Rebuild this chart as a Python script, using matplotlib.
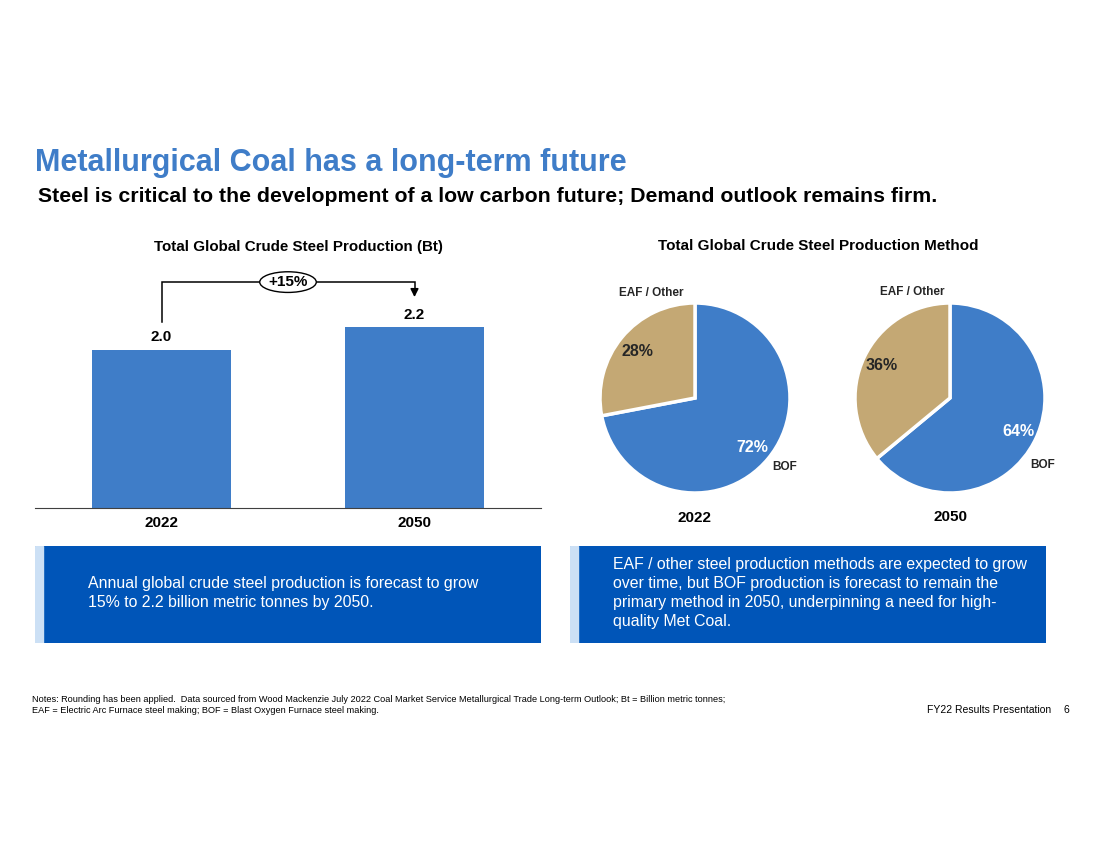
import numpy as np
import matplotlib.pyplot as plt

plt.rcParams['font.family'] = ['Liberation Sans', 'DejaVu Sans']

# data
years = ['2022', '2050']
production = [1.96, 2.24]          # Bt
growth_label = '+15%'
methods = ['BOF', 'EAF / Other']
share_2022 = [72, 28]
share_2050 = [64, 36]

W, H = 1100, 849
BLUE = '#3F7DC8'
TAN = '#C4A874'
BOX = '#0055B8'
STRIP = '#CCE0F5'

fig = plt.figure(figsize=(W / 100, H / 100), dpi=100)


def px_axes(x0, y0, x1, y1):
    return fig.add_axes([x0 / W, 1 - y1 / H, (x1 - x0) / W, (y1 - y0) / H])


def ftext(x, y, s, **kw):
    fig.text(x / W, 1 - y / H, s, **kw)


# headings
ftext(35, 163, 'Metallurgical Coal has a long-term future', fontsize=22,
      fontweight='bold', color=BLUE, va='center')
ftext(38, 197, 'Steel is critical to the development of a low carbon future; Demand outlook remains firm.',
      fontsize=15.3, fontweight='bold', color='black', va='center')

# bar chart
ax = px_axes(35, 270, 541, 508)
x = np.arange(len(years))
ax.bar(x, production, width=0.55, color=BLUE)
ax.set_xlim(-0.5, 1.5)
ax.set_ylim(0, 2.95)
for s in ['top', 'right', 'left']:
    ax.spines[s].set_visible(False)
ax.spines['bottom'].set_color('#404040')
ax.set_yticks([])
ax.set_xticks(x)
ax.set_xticklabels(years, fontsize=11, fontweight='bold')
ax.tick_params(axis='x', length=0, pad=6)
for xi, v in zip(x, production):
    ax.annotate(f'{v:.1f}', (xi, v), xytext=(0, 4), textcoords='offset points',
                ha='center', va='bottom', fontsize=11, fontweight='bold')
ftext(298, 247, 'Total Global Crude Steel Production (Bt)', fontsize=10.9,
      fontweight='bold', ha='center', va='center')

# growth bracket
top = 2.80
ax.plot([x[0], x[0], x[1], x[1]], [2.30, top, top, 2.70], color='black', lw=1.1,
        clip_on=False, solid_joinstyle='miter')
ax.annotate('', xy=(x[1], 2.58), xytext=(x[1], 2.72),
            arrowprops=dict(arrowstyle='-|>', color='black', lw=1.1, mutation_scale=12),
            annotation_clip=False)
ax.text(0.5, top, growth_label, ha='center', va='center', fontsize=11, fontweight='bold',
        bbox=dict(boxstyle='ellipse,pad=0.02', fc='white', ec='black', lw=1))

# pies
ftext(818, 246, 'Total Global Crude Steel Production Method', fontsize=11,
      fontweight='bold', ha='center', va='center')

R = 95
pies = [(695, 398, share_2022, years[0], (-58, 47), (57, -49), (-44, 105), (90, -69), 120),
        (950, 398, share_2050, years[1], (-68, 32), (68, -33), (-38, 106), (93, -67), 119)]
for cx, cy, shares, yr, p_eaf, p_bof, l_eaf, l_bof, yoff in pies:
    pa = px_axes(cx - 130, cy - 130, cx + 130, cy + 130)
    lim = 130 / R
    pa.pie(shares, colors=[BLUE, TAN], startangle=90, counterclock=False,
           wedgeprops=dict(edgecolor='white', linewidth=2.5))
    pa.set_xlim(-lim, lim)
    pa.set_ylim(-lim, lim)
    pa.set_aspect('equal')
    pa.axis('off')
    pa.text(p_bof[0] / R, p_bof[1] / R, f'{shares[0]}%', color='white', fontsize=11.5,
            fontweight='bold', ha='center', va='center')
    pa.text(p_eaf[0] / R, p_eaf[1] / R, f'{shares[1]}%', color='#262626', fontsize=11.5,
            fontweight='bold', ha='center', va='center')
    pa.text(l_eaf[0] / R, l_eaf[1] / R, methods[1], fontsize=8.5, fontweight='bold',
            ha='center', va='center', color='#262626')
    pa.text(l_bof[0] / R, l_bof[1] / R, methods[0], fontsize=8.5, fontweight='bold',
            ha='center', va='center', color='#262626')
    pa.text(0, -yoff / R, yr, fontsize=11, fontweight='bold', ha='center', va='center')

# text boxes
for x0, x1, lines, tx, ty in [
        (35, 541, 'Annual global crude steel production is forecast to grow\n'
                  '15% to 2.2 billion metric tonnes by 2050.', 88, 593),
        (570, 1046, 'EAF / other steel production methods are expected to grow\n'
                    'over time, but BOF production is forecast to remain the\n'
                    'primary method in 2050, underpinning a need for high-\n'
                    'quality Met Coal.', 613, 593)]:
    bx = px_axes(x0, 546, x1, 643)
    bx.set_xlim(0, 1)
    bx.set_ylim(0, 1)
    bx.axis('off')
    bx.add_patch(plt.Rectangle((0, 0), 1, 1, color=BOX, transform=bx.transAxes))
    bx.add_patch(plt.Rectangle((0, 0), 8 / (x1 - x0), 1, color=STRIP, transform=bx.transAxes))
    ftext(tx, ty, lines, fontsize=11.4, color='white', va='center', linespacing=1.32)

# footer
ftext(32, 705, 'Notes: Rounding has been applied.  Data sourced from Wood Mackenzie July 2022 Coal Market Service '
      'Metallurgical Trade Long-term Outlook; Bt = Billion metric tonnes;\n'
      'EAF = Electric Arc Furnace steel making; BOF = Blast Oxygen Furnace steel making.',
      fontsize=6.6, va='center', linespacing=1.25)
ftext(1051, 710, 'FY22 Results Presentation', fontsize=7.5, ha='right', va='center')
ftext(1066, 710, '6', fontsize=7.5, ha='center', va='center')

fig.savefig('out.png', dpi=100)
